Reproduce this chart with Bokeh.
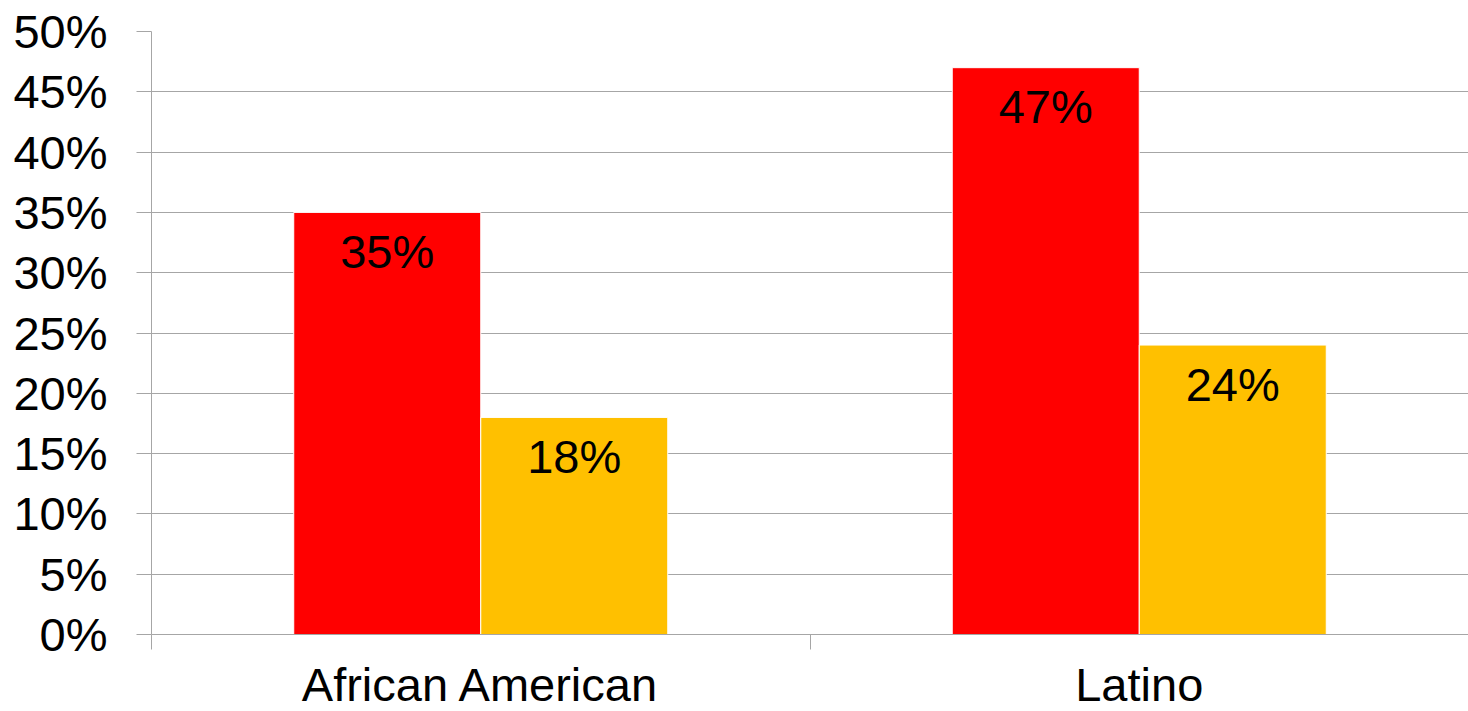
from bokeh.plotting import figure
from bokeh.models import ColumnDataSource, FixedTicker, Range1d
from bokeh.core.properties import value
from bokeh.embed import file_html
from bokeh.resources import INLINE

# ---- data ----
categories = ["African American", "Latino"]
series_red = [35, 47]
series_gold = [18, 24]
y_ticks = [0, 5, 10, 15, 20, 25, 30, 35, 40, 45, 50]
y_tick_labels = ["0%", "5%", "10%", "15%", "20%", "25%", "30%", "35%", "40%", "45%", "50%"]

RED = "#FF0000"
GOLD = "#FFC000"
GRID = "#A6A6A6"
FONT = "Liberation Sans"
FS = "47px"

OFF = 0.142
BW = 0.284

p = figure(width=1468, height=711, output_backend="svg", toolbar_location=None,
           x_range=Range1d(0, len(categories)), y_range=Range1d(0, 50),
           min_border_left=151, min_border_right=0, min_border_top=31, min_border_bottom=77,
           frame_width=1317, frame_height=603)
p.outline_line_color = None
p.background_fill_color = "white"
p.border_fill_color = "white"

centers = [i + 0.5 for i in range(len(categories))]
src_r = ColumnDataSource(dict(x=[c - OFF for c in centers], top=series_red,
                              lab=[f"{v}%" for v in series_red]))
src_g = ColumnDataSource(dict(x=[c + OFF for c in centers], top=series_gold,
                              lab=[f"{v}%" for v in series_gold]))

p.vbar(x="x", top="top", width=BW, bottom=0, source=src_r, fill_color=RED, line_color="white", line_width=1)
p.vbar(x="x", top="top", width=BW, bottom=0, source=src_g, fill_color=GOLD, line_color="white", line_width=1)

for s in (src_r, src_g):
    p.text(x="x", y="top", text="lab", source=s, text_align="center", text_baseline="middle",
           y_offset=39, text_font=value(FONT), text_font_size=FS, text_color="black")

# y axis
yax = p.yaxis[0]
yax.ticker = FixedTicker(ticks=y_ticks)
yax.major_label_overrides = {t: l for t, l in zip(y_ticks, y_tick_labels)}
yax.major_label_text_font = FONT
yax.major_label_text_font_size = FS
yax.major_label_text_color = "black"
yax.major_tick_out = 15
yax.major_tick_in = 0
yax.major_tick_line_color = GRID
yax.minor_tick_line_color = None
yax.axis_line_color = GRID
yax.major_label_standoff = 29

# x axis
xax = p.xaxis[0]
xax.ticker = FixedTicker(ticks=centers, minor_ticks=list(range(len(categories) + 1)))
xax.major_label_overrides = {c: n for c, n in zip(centers, categories)}
xax.major_label_text_font = FONT
xax.major_label_text_font_size = FS
xax.major_label_text_color = "black"
xax.major_tick_out = 0
xax.major_tick_in = 0
xax.major_tick_line_color = None
xax.minor_tick_out = 15
xax.minor_tick_in = 0
xax.minor_tick_line_color = GRID
xax.axis_line_color = GRID
xax.major_label_standoff = 8

p.xgrid.grid_line_color = None
p.ygrid.grid_line_color = GRID
p.ygrid.ticker = FixedTicker(ticks=y_ticks)

open("out.html", "w").write(file_html(p, INLINE))
